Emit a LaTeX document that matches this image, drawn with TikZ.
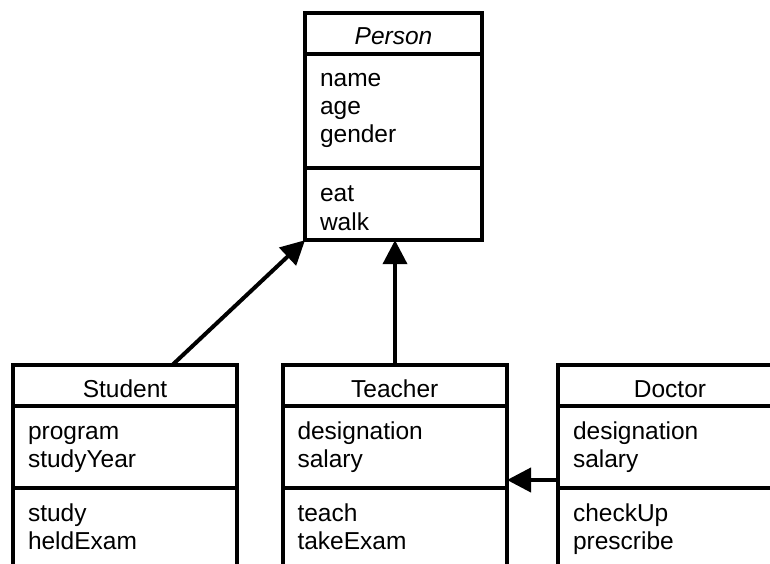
\documentclass[tikz,border=0pt]{standalone}
\usepackage{fontspec}
\setmainfont{Liberation Sans}
\usetikzlibrary{arrows.meta}
\newcommand{\umlfont}{\fontsize{24.5}{28.3}\selectfont}
\tikzset{
  comp/.style={draw, line width=4pt, inner sep=0pt, outer sep=0pt, anchor=north west},
  hdr/.style={comp, text height=23.6pt, text depth=0pt, font=\umlfont},
  lines/.style={anchor=north west, inner sep=0pt, outer sep=0pt, align=left, font=\umlfont},
  inh/.style={line width=4pt, -{Triangle[length=24pt,width=24pt]}},
}
\begin{document}
\begin{tikzpicture}[x=1pt,y=-1pt]
\useasboundingbox (0,0) rectangle (770,564);
\clip (0,0) rectangle (770,564);
% Person
\node[hdr, minimum width=177pt, minimum height=41pt, font=\umlfont\itshape] (personH) at (305,12.7) {Person};
\node[comp, minimum width=177pt, minimum height=114.5pt] (personA) at (305,53.7) {};
\node[comp, minimum width=177pt, minimum height=72pt] (personM) at (305,168.2) {};
\node[lines] (personAt) at (320,66.2) {\strut name\\\strut age\\\strut gender};
\node[lines] (personMt) at (320,181.9) {\strut eat\\\strut walk};
% Student
\node[hdr, minimum width=224pt, minimum height=41pt] (studH) at (13,365.3) {Student};
\node[comp, minimum width=224pt, minimum height=82pt] (studA) at (13,406.3) {};
\node[comp, minimum width=224pt, minimum height=130pt] (studM) at (13,488.3) {};
\node[lines] (studAt) at (28,419.2) {\strut program\\\strut studyYear};
\node[lines] (studMt) at (28,501.4) {\strut study\\\strut heldExam};
% Teacher
\node[hdr, minimum width=224.5pt, minimum height=41pt] (teaH) at (282.5,365.3) {Teacher};
\node[comp, minimum width=224.5pt, minimum height=82pt] (teaA) at (282.5,406.3) {};
\node[comp, minimum width=224.5pt, minimum height=130pt] (teaM) at (282.5,488.3) {};
\node[lines] (teaAt) at (297.5,419.2) {\strut designation\\\strut salary};
\node[lines] (teaMt) at (297.5,501.4) {\strut teach\\\strut takeExam};
% Doctor
\node[hdr, minimum width=224pt, minimum height=41pt] (docH) at (558,365.3) {Doctor};
\node[comp, minimum width=224pt, minimum height=82pt] (docA) at (558,406.3) {};
\node[comp, minimum width=224pt, minimum height=130pt] (docM) at (558,488.3) {};
\node[lines] (docAt) at (573,419.2) {\strut designation\\\strut salary};
\node[lines] (docMt) at (573,501.4) {\strut checkUp\\\strut prescribe};
% connectors
\coordinate (sx) at (172,0);
\coordinate (tx) at (395,0);
\coordinate (dy) at (0,480);
\draw[inh] (studH.north -| sx) -- (personM.south west);
\draw[inh] (teaH.north -| tx) -- (personM.south -| tx);
\draw[inh] (docA.west |- dy) -- (teaA.east |- dy);
\end{tikzpicture}
\end{document}
